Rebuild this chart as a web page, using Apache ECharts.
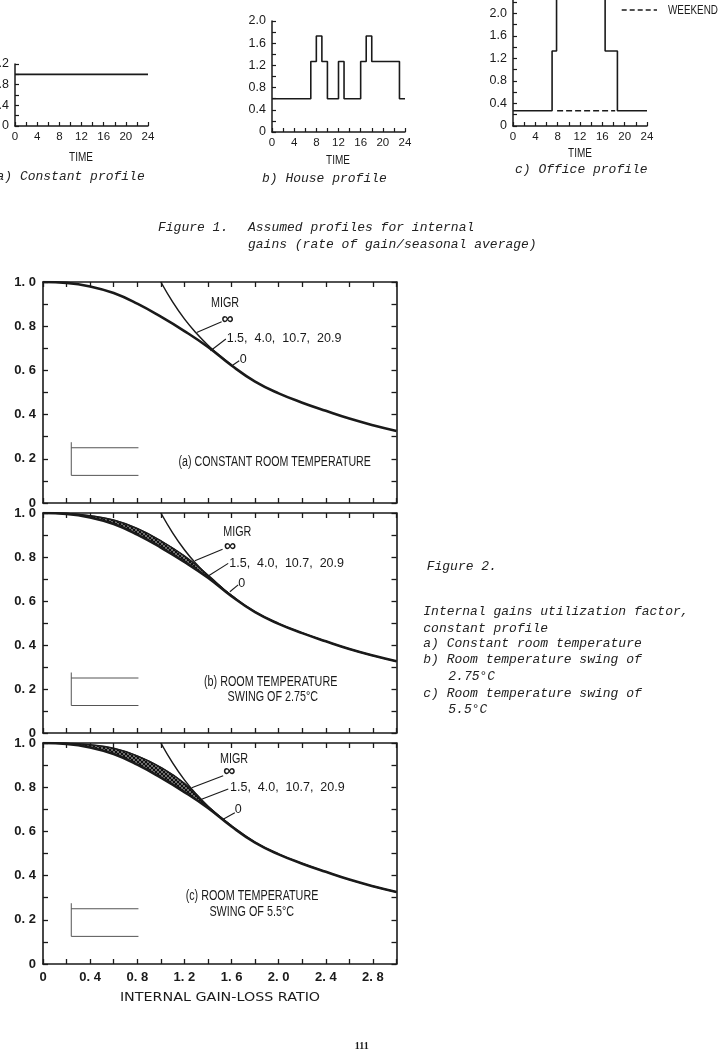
<!DOCTYPE html>
<html>
<head>
<meta charset="utf-8">
<script src="https://cdn.jsdelivr.net/npm/echarts@6/dist/echarts.min.js"></script>
<style>
html,body{margin:0;padding:0;background:#fff;}
#c{width:722px;height:1054px;}
</style>
</head>
<body>
<div id="c"></div>
<script>
// ---------- Figure 1 : profiles ----------
const timeTicks = [0, 4, 8, 12, 16, 20, 24];
const constantHours = [0, 24];
const constantProfile = [1.0, 1.0];
const houseHours = [0, 7, 8, 9, 10, 12, 13, 16, 17, 18, 23, 24];
const houseProfile = [0.6, 1.27, 1.73, 1.27, 0.6, 1.27, 0.6, 1.27, 1.73, 1.27, 0.6, 0.6];
const officeHours = [0, 7, 7.8, 16.5, 18.7, 24];
const officeWeekday = [0.27, 1.33, 2.7, 1.33, 0.27, 0.27];
const weekendHours = [7.9, 18.3];
const officeWeekend = [0.27, 0.27];

// ---------- Figure 2 : utilization factor ----------
const ratioX = [0, 0.2, 0.4, 0.6, 0.8, 1.0, 1.2, 1.4, 1.6, 1.8, 2.0, 2.2, 2.4, 2.6, 2.8, 3.0];
const etaMIGR0 = [1.0, 0.996, 0.980, 0.950, 0.902, 0.843, 0.778, 0.706, 0.622, 0.549, 0.496, 0.454, 0.417, 0.382, 0.352, 0.326];
const etaSwing275 = [1.0, 0.998, 0.988, 0.968, 0.930, 0.874, 0.805, 0.718, 0.625, 0.551, 0.497, 0.455, 0.417, 0.382, 0.352, 0.326];
const etaSwing55 = [1.0, 0.999, 0.992, 0.976, 0.942, 0.890, 0.818, 0.714, 0.625, 0.551, 0.497, 0.455, 0.417, 0.382, 0.352, 0.326];
const infX = [1.0, 1.1, 1.2, 1.3, 1.4, 1.5, 1.6];
const infEta = [1.0, 0.91, 0.833, 0.769, 0.714, 0.667, 0.625];

// inset "constant profile" glyph (data units)
const insetVert = [[0.24, 0.275], [0.24, 0.125]];
const insetTop = [[0.24, 0.25], [0.81, 0.25]];
const insetBottom = [[0.24, 0.125], [0.81, 0.125]];

// label leader lines per panel
const leadersA = [[[1.516, 0.820], [1.304, 0.772]], [[1.552, 0.742], [1.422, 0.689]], [[1.665, 0.644], [1.600, 0.620]]];
const leadersB = [[[1.524, 0.835], [1.289, 0.783]], [[1.572, 0.771], [1.402, 0.714]], [[1.656, 0.673], [1.586, 0.642]]];
const leadersC = [[[1.529, 0.852], [1.262, 0.798]], [[1.572, 0.792], [1.346, 0.745]], [[1.628, 0.684], [1.529, 0.655]]];

const INK = '#1a1a1a';
const SANS = '"Liberation Sans",Arial,sans-serif';
const MONO = '"Liberation Mono","Courier New",monospace';

const chart = echarts.init(document.getElementById('c'), null, {renderer: 'canvas'});

// hatch pattern for the MIGR band
const pc = document.createElement('canvas');
pc.width = 4; pc.height = 4;
const pctx = pc.getContext('2d');
pctx.fillStyle = '#6e6e6e'; pctx.fillRect(0, 0, 4, 4);
pctx.strokeStyle = '#111'; pctx.lineWidth = 1;
pctx.beginPath(); pctx.moveTo(0, 0); pctx.lineTo(4, 4); pctx.moveTo(4, 0); pctx.lineTo(0, 4); pctx.stroke();
const hatch = {image: pc, repeat: 'repeat'};

function fmtMainY(v) {
  const k = Math.round(v * 10);
  if (k % 2) return '';
  if (k === 0) return '0';
  return (k / 10).toFixed(1).replace('.', '. ');
}
function fmtMainX(v) {
  const k = Math.round(v * 10);
  if (k % 4 || k > 28) return '';
  if (k === 0) return '0';
  return (k / 10).toFixed(1).replace('.', '. ');
}

const mainGrids = [
  {left: 43, top: 282, width: 353.5, height: 221},
  {left: 43, top: 513, width: 353.5, height: 220},
  {left: 43, top: 743, width: 353.5, height: 221}
];
const topGrids = [
  {left: 15, top: 64, width: 133, height: 62},
  {left: 272, top: 21, width: 133, height: 111},
  {left: 513, top: -31.9, width: 134, height: 157.9}
];

const grid = [];
const xAxis = [];
const yAxis = [];
const gridBase = {containLabel: false, outerBoundsMode: 'none'};
mainGrids.forEach((g, i) => {
  grid.push(Object.assign({}, gridBase, g));
  const lineStyle = {color: INK, width: 1.6};
  xAxis.push({gridIndex: i, type: 'value', min: 0, max: 3.0, interval: 0.2, position: 'bottom',
    axisLine: {show: true, onZero: false, lineStyle}, axisTick: {inside: true, length: 5, lineStyle: {color: INK, width: 1.3}},
    splitLine: {show: false},
    axisLabel: {show: i === 2, formatter: fmtMainX, margin: 7, color: INK, fontFamily: SANS, fontSize: 13, fontWeight: 'bold'}});
  xAxis.push({gridIndex: i, type: 'value', min: 0, max: 3.0, interval: 0.2, position: 'top',
    axisLine: {show: true, onZero: false, lineStyle}, axisTick: {inside: true, length: 5, lineStyle: {color: INK, width: 1.3}},
    splitLine: {show: false}, axisLabel: {show: false}});
  yAxis.push({gridIndex: i, type: 'value', min: 0, max: 1.0, interval: 0.1, position: 'left',
    axisLine: {show: true, onZero: false, lineStyle}, axisTick: {inside: true, length: 5, lineStyle: {color: INK, width: 1.3}},
    splitLine: {show: false},
    axisLabel: {formatter: fmtMainY, margin: 7, color: INK, fontFamily: SANS, fontSize: 13, fontWeight: 'bold'}});
  yAxis.push({gridIndex: i, type: 'value', min: 0, max: 1.0, interval: 0.1, position: 'right',
    axisLine: {show: true, onZero: false, lineStyle}, axisTick: {inside: true, length: 5, lineStyle: {color: INK, width: 1.3}},
    splitLine: {show: false}, axisLabel: {show: false}});
});
const topYMax = [1.2, 2.0, 2.8];
topGrids.forEach((g, j) => {
  const gi = 3 + j;
  grid.push(Object.assign({}, gridBase, g));
  const lineStyle = {color: INK, width: 1.5};
  xAxis.push({gridIndex: gi, type: 'value', min: 0, max: 24, interval: 2,
    axisLine: {show: true, onZero: false, lineStyle}, axisTick: {inside: true, length: 4, lineStyle: {color: INK, width: 1.2}},
    splitLine: {show: false},
    axisLabel: {formatter: v => (timeTicks.indexOf(v) >= 0 ? String(v) : ''), margin: 5, color: INK, fontFamily: SANS, fontSize: 11.5}});
  yAxis.push({gridIndex: gi, type: 'value', min: 0, max: topYMax[j], interval: 0.2,
    axisLine: {show: true, onZero: false, lineStyle}, axisTick: {inside: true, length: 4, lineStyle: {color: INK, width: 1.2}},
    splitLine: {show: false},
    axisLabel: {formatter: v => { const k = Math.round(v * 10); if (k % 4) return ''; return k === 0 ? '0' : (k / 10).toFixed(1); },
      margin: 6, color: INK, fontFamily: SANS, fontSize: 12.5}});
});

const series = [];
function line(xi, yi, data, opts) {
  series.push(Object.assign({type: 'line', xAxisIndex: xi, yAxisIndex: yi, data, symbol: 'none', silent: true,
    animation: false, lineStyle: {color: INK, width: 1.3}}, opts || {}));
}
const zip = (xs, ys) => xs.map((x, i) => [x, ys[i]]);

// main panels
const uppers = [null, etaSwing275, etaSwing55];
const leaders = [leadersA, leadersB, leadersC];
[0, 1, 2].forEach(i => {
  const xi = 2 * i, yi = 2 * i;
  if (uppers[i]) {
    const up = uppers[i];
    series.push({type: 'custom', xAxisIndex: xi, yAxisIndex: yi, silent: true, animation: false, clip: true,
      data: ratioX.map((x, k) => [x, etaMIGR0[k], up[k]]),
      renderItem: (params, api) => {
        if (params.dataIndex !== 0) return {type: 'group', children: []};
        const pts = [];
        for (let k = 0; k < ratioX.length; k++) pts.push(api.coord([ratioX[k], up[k]]));
        for (let k = ratioX.length - 1; k >= 0; k--) pts.push(api.coord([ratioX[k], etaMIGR0[k]]));
        return {type: 'polygon', shape: {points: pts, smooth: 0.35}, style: {fill: hatch, stroke: INK, lineWidth: 0.8}};
      }});
    line(xi, yi, zip(ratioX, up), {smooth: 0.45, lineStyle: {color: INK, width: 1.4}});
  }
  line(xi, yi, zip(ratioX, etaMIGR0), {smooth: 0.45, lineStyle: {color: INK, width: 2.6}});
  line(xi, yi, zip(infX, infEta), {smooth: 0.45, lineStyle: {color: INK, width: 1.5}});
  leaders[i].forEach(seg => line(xi, yi, seg, {lineStyle: {color: INK, width: 1.1}}));
  line(xi, yi, insetVert, {lineStyle: {color: '#555', width: 1}});
  line(xi, yi, insetTop, {lineStyle: {color: '#555', width: 1}});
  line(xi, yi, insetBottom, {lineStyle: {color: '#555', width: 1}});
});

// profiles
line(6, 6, zip(constantHours, constantProfile), {lineStyle: {color: INK, width: 1.8}});
line(7, 7, zip(houseHours, houseProfile), {step: 'end', lineStyle: {color: INK, width: 1.6}});
line(8, 8, zip(officeHours, officeWeekday), {step: 'end', lineStyle: {color: INK, width: 1.6}});
line(8, 8, zip(weekendHours, officeWeekend), {lineStyle: {color: INK, width: 1.4, type: [6, 3]}});

function T(text, x, y, font, align, color, sx) {
  return {type: 'text', x, y, silent: true, scaleX: sx || 1,
    style: {text, font, fill: color || INK, align: align || 'left', verticalAlign: 'middle',
      textAlign: align || 'left', textVerticalAlign: 'middle'}};
}
const N = 0.77; // condensed look
const capF = '14px ' + SANS;
const numF = '12.5px ' + SANS;
const itF = 'italic 13px ' + MONO;
const CAPC = '#222';
const infF = 'bold 17px ' + SANS;
const graphic = [
  // Figure 1 texts
  T('TIME', 81, 157, '13px ' + SANS, 'center', INK, N),
  T('TIME', 338, 160, '13px ' + SANS, 'center', INK, N),
  T('TIME', 580, 153, '13px ' + SANS, 'center', INK, N),
  T('a) Constant profile', -3.5, 177, itF, 'left', CAPC),
  T('b) House profile', 262, 179, itF, 'left', CAPC),
  T('c) Office profile', 515, 170, itF, 'left', CAPC),
  {type: 'line', silent: true, shape: {x1: 621.7, y1: 10, x2: 657, y2: 10}, style: {stroke: INK, lineWidth: 1.3, lineDash: [5, 3]}},
  T('WEEKEND', 668, 10, '13px ' + SANS, 'left', INK, 0.76),
  T('Figure 1.', 158, 228, itF, 'left', CAPC),
  T('Assumed profiles for internal', 248, 228, itF, 'left', CAPC),
  T('gains (rate of gain/seasonal average)', 248, 245, itF, 'left', CAPC),
  // panel a
  T('MIGR', 225, 303.3, capF, 'center', INK, N),
  T('\u221e', 227.5, 319, infF, 'center'),
  T('1.5,  4.0,  10.7,  20.9', 226.7, 339, numF, 'left'),
  T('0', 243.3, 359.3, numF, 'center'),
  T('(a) CONSTANT ROOM TEMPERATURE', 274.7, 461.7, capF, 'center', INK, 0.76),
  // panel b
  T('MIGR', 237.3, 532.3, capF, 'center', INK, N),
  T('\u221e', 230, 546.7, infF, 'center'),
  T('1.5,  4.0,  10.7,  20.9', 229.3, 563.3, numF, 'left'),
  T('0', 241.7, 583.3, numF, 'center'),
  T('(b) ROOM TEMPERATURE', 270.7, 681.7, capF, 'center', INK, N),
  T('SWING OF 2.75\u00b0C', 272.8, 696.7, capF, 'center', INK, N),
  // panel c
  T('MIGR', 234, 759.3, capF, 'center', INK, N),
  T('\u221e', 229.3, 771.7, infF, 'center'),
  T('1.5,  4.0,  10.7,  20.9', 230, 787.3, numF, 'left'),
  T('0', 238.3, 810, numF, 'center'),
  T('(c) ROOM TEMPERATURE', 252, 895.7, capF, 'center', INK, N),
  T('SWING OF 5.5\u00b0C', 251.7, 911.7, capF, 'center', INK, N),
  // x title and page number
  T('INTERNAL GAIN-LOSS RATIO', 220, 998, '13px "DejaVu Sans",sans-serif', 'center', INK, 1.1),
  T('111', 361.7, 1046.7, 'bold 10px "Liberation Serif",serif', 'center'),
  // Figure 2 caption
  T('Figure 2.', 426.7, 566.7, itF, 'left', CAPC),
  T('Internal gains utilization factor,', 423.3, 611.7, itF, 'left', CAPC),
  T('constant profile', 423.3, 628.3, itF, 'left', CAPC),
  T('a) Constant room temperature', 423.3, 644, itF, 'left', CAPC),
  T('b) Room temperature swing of', 423.3, 660, itF, 'left', CAPC),
  T('2.75\u00b0C', 448.3, 676.7, itF, 'left', CAPC),
  T('c) Room temperature swing of', 423.3, 693.3, itF, 'left', CAPC),
  T('5.5\u00b0C', 448.3, 709.3, itF, 'left', CAPC)
];

chart.setOption({
  backgroundColor: '#ffffff',
  animation: false,
  grid, xAxis, yAxis, series, graphic
});
</script>
</body>
</html>
